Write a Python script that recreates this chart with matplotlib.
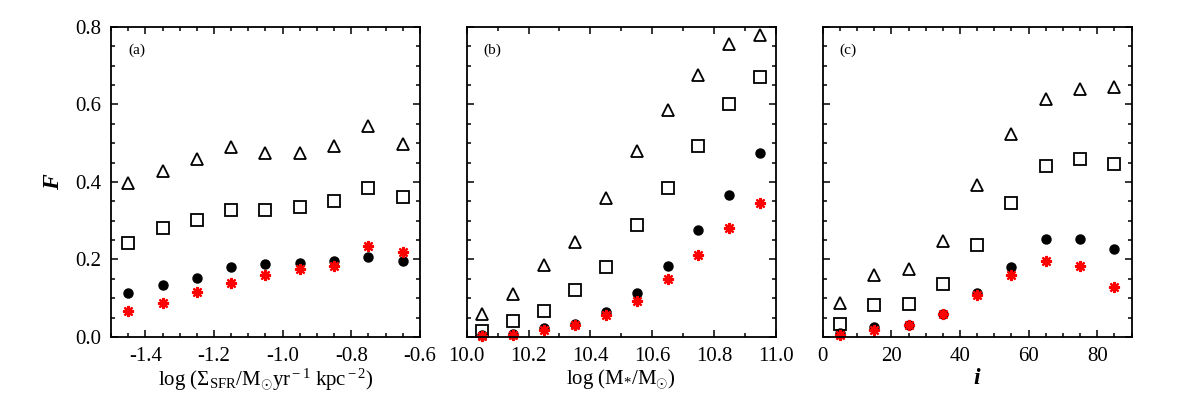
import numpy as np
import matplotlib
matplotlib.use('Agg')
import matplotlib.pyplot as plt
from matplotlib.ticker import MultipleLocator

plt.rcParams['font.family'] = ['Liberation Serif', 'DejaVu Serif']
plt.rcParams['mathtext.fontset'] = 'custom'
plt.rcParams['mathtext.rm'] = 'Liberation Serif'
plt.rcParams['mathtext.it'] = 'Liberation Serif:italic'
plt.rcParams['axes.unicode_minus'] = False

# panel (a): SFR surface density bins
x_sfr = [-1.45, -1.35, -1.25, -1.15, -1.05, -0.95, -0.85, -0.75, -0.65]
tri_sfr = [0.398, 0.429, 0.460, 0.490, 0.476, 0.476, 0.492, 0.545, 0.498]
sq_sfr = [0.242, 0.282, 0.301, 0.327, 0.328, 0.335, 0.352, 0.385, 0.361]
dot_sfr = [0.114, 0.134, 0.151, 0.181, 0.189, 0.191, 0.197, 0.206, 0.197]
ast_sfr = [0.067, 0.088, 0.115, 0.139, 0.160, 0.176, 0.182, 0.236, 0.219]

# panel (b): stellar mass bins
x_mass = [10.05, 10.15, 10.25, 10.35, 10.45, 10.55, 10.65, 10.75, 10.85, 10.95]
tri_mass = [0.060, 0.110, 0.187, 0.245, 0.359, 0.480, 0.586, 0.675, 0.756, 0.779]
sq_mass = [0.015, 0.042, 0.068, 0.122, 0.180, 0.289, 0.385, 0.494, 0.601, 0.670]
dot_mass = [0.005, 0.008, 0.023, 0.033, 0.064, 0.113, 0.183, 0.276, 0.367, 0.474]
ast_mass = [0.003, 0.006, 0.017, 0.031, 0.057, 0.094, 0.149, 0.212, 0.282, 0.346]

# panel (c): inclination bins
x_inc = [5, 15, 25, 35, 45, 55, 65, 75, 85]
tri_inc = [0.089, 0.161, 0.175, 0.248, 0.391, 0.524, 0.615, 0.641, 0.645]
sq_inc = [0.034, 0.082, 0.084, 0.137, 0.238, 0.347, 0.441, 0.458, 0.447]
dot_inc = [0.010, 0.026, 0.030, 0.060, 0.113, 0.180, 0.252, 0.252, 0.226]
ast_inc = [0.006, 0.019, 0.030, 0.060, 0.109, 0.161, 0.197, 0.182, 0.130]

panels = [
    (x_sfr, tri_sfr, sq_sfr, dot_sfr, ast_sfr, '(a)',
     r'log ($\Sigma_{\rm SFR}$/M$_{\odot}$yr$^{\rm -1}$ kpc$^{\rm -2}$)',
     (-1.5, -0.6), 0.2, 0.05, '%.1f'),
    (x_mass, tri_mass, sq_mass, dot_mass, ast_mass, '(b)',
     r'log (M$_{*}$/M$_{\odot}$)',
     (10.0, 11.0), 0.2, 0.1, '%.1f'),
    (x_inc, tri_inc, sq_inc, dot_inc, ast_inc, '(c)',
     'i',
     (0, 90), 20, 5, '%d'),
]

fig = plt.figure(figsize=(11.81, 3.93), dpi=100)
lefts = [0.094, 0.3952, 0.6966]

for k, (x, tri, sq, dot, ast, tag, xlab, xlim, maj, mnr, fmt) in enumerate(panels):
    ax = fig.add_axes([lefts[k], 0.1425, 0.2616, 0.789])
    ax.plot(x, tri, ls='none', marker='^', ms=8, mfc='none', mec='black', mew=1.3, clip_on=False)
    ax.plot(x, sq, ls='none', marker='s', ms=8, mfc='none', mec='black', mew=1.3, clip_on=False)
    ax.plot(x, dot, ls='none', marker='o', ms=6.5, mfc='black', mec='black', clip_on=False)
    ax.plot(x, ast, ls='none', marker=(8, 2, 0), ms=8, mec='red', mew=1.6, clip_on=False)

    ax.set_xlim(*xlim)
    ax.set_ylim(0, 0.8)
    ax.xaxis.set_major_locator(MultipleLocator(maj))
    ax.xaxis.set_minor_locator(MultipleLocator(mnr))
    ax.yaxis.set_major_locator(MultipleLocator(0.2))
    ax.yaxis.set_minor_locator(MultipleLocator(0.05))
    ax.xaxis.set_major_formatter(plt.FormatStrFormatter(fmt))
    ax.yaxis.set_major_formatter(plt.FormatStrFormatter('%.1f'))
    ax.tick_params(which='both', direction='in', top=True, right=True, labelsize=15, width=1.1)
    ax.tick_params(which='major', length=5, pad=7)
    ax.tick_params(which='minor', length=3)
    for s in ax.spines.values():
        s.set_linewidth(1.3)
    if k > 0:
        ax.tick_params(labelleft=False)
    else:
        ax.set_ylabel('F', fontsize=17, fontstyle='italic', fontweight='bold', labelpad=8)
    if k == 2:
        ax.set_xlabel(xlab, fontsize=17, fontstyle='italic', fontweight='bold', labelpad=2)
    else:
        ax.set_xlabel(xlab, fontsize=15, labelpad=1)
    ax.text(0.055, 0.925, tag, transform=ax.transAxes, fontsize=11, va='center')

fig.savefig('out.png', dpi=100)
